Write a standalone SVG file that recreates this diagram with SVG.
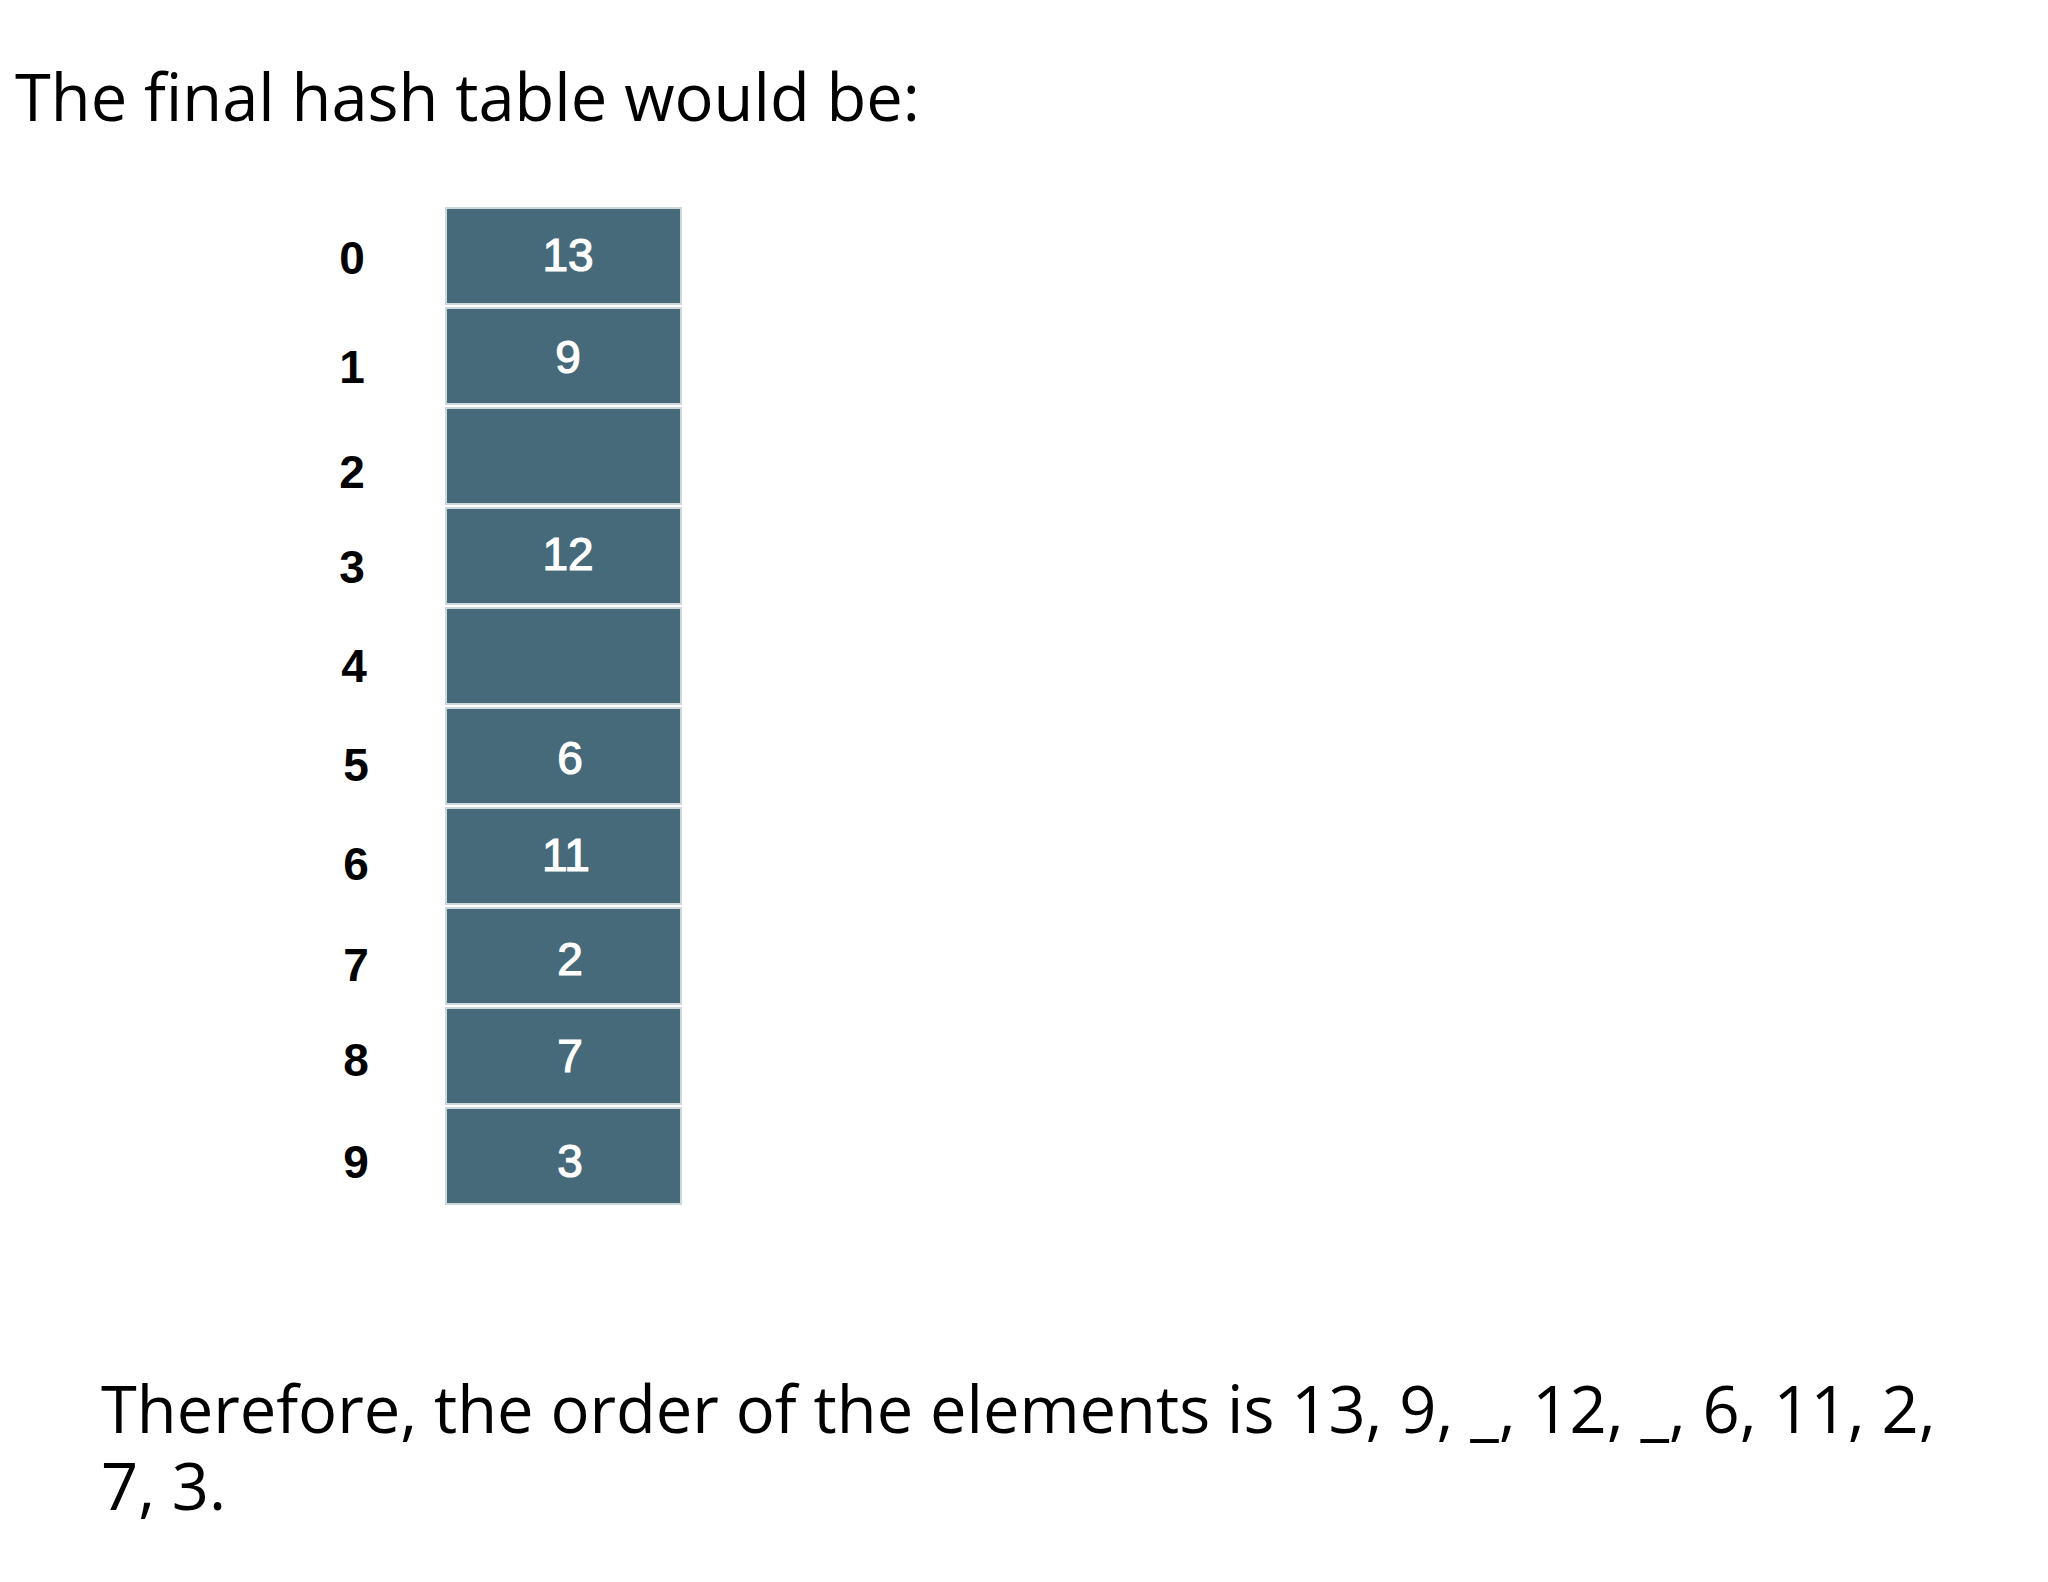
<svg xmlns="http://www.w3.org/2000/svg" width="2048" height="1582" viewBox="0 0 2048 1582">
<style>
.txt{font-family:"Open Sans","Noto Sans",sans-serif;font-size:65px;fill:#000}
.cell{fill:#476a7a;stroke:#cdd8dd;stroke-width:2}
.val{font-family:"Liberation Sans",Arial,sans-serif;font-size:46px;fill:#fff;stroke:#fff;stroke-width:1.2;text-anchor:middle}
.idx{font-family:"Liberation Sans",Arial,sans-serif;font-size:46px;font-weight:bold;fill:#000;text-anchor:middle}
</style>
<rect width="2048" height="1582" fill="#fff"/>
<text class="txt" x="15" y="121">The final hash table would be:</text>
<g id="row0"><rect class="cell" x="446" y="208" width="235" height="96"/><text class="idx" x="352" y="274">0</text><text class="val" x="568" y="271">13</text></g>
<g id="row1"><rect class="cell" x="446" y="308" width="235" height="96"/><text class="idx" x="352" y="383">1</text><text class="val" x="568" y="373">9</text></g>
<g id="row2"><rect class="cell" x="446" y="408" width="235" height="96"/><text class="idx" x="352" y="488">2</text></g>
<g id="row3"><rect class="cell" x="446" y="508" width="235" height="96"/><text class="idx" x="352" y="583">3</text><text class="val" x="568" y="570">12</text></g>
<g id="row4"><rect class="cell" x="446" y="608" width="235" height="96"/><text class="idx" x="354" y="682">4</text></g>
<g id="row5"><rect class="cell" x="446" y="708" width="235" height="96"/><text class="idx" x="356" y="781">5</text><text class="val" x="570" y="774">6</text></g>
<g id="row6"><rect class="cell" x="446" y="808" width="235" height="96"/><text class="idx" x="356" y="880">6</text><text class="val" x="566" y="871">11</text></g>
<g id="row7"><rect class="cell" x="446" y="908" width="235" height="96"/><text class="idx" x="356" y="981">7</text><text class="val" x="570" y="975">2</text></g>
<g id="row8"><rect class="cell" x="446" y="1008" width="235" height="96"/><text class="idx" x="356" y="1076">8</text><text class="val" x="570" y="1072">7</text></g>
<g id="row9"><rect class="cell" x="446" y="1108" width="235" height="96"/><text class="idx" x="356" y="1178">9</text><text class="val" x="570" y="1177">3</text></g>
<g id="connectors"></g>
<text class="txt" x="101" y="1433">Therefore, the order of the elements is 13, 9, _, 12, _, 6, 11, 2,</text>
<text class="txt" x="101" y="1510">7, 3.</text>
</svg>
